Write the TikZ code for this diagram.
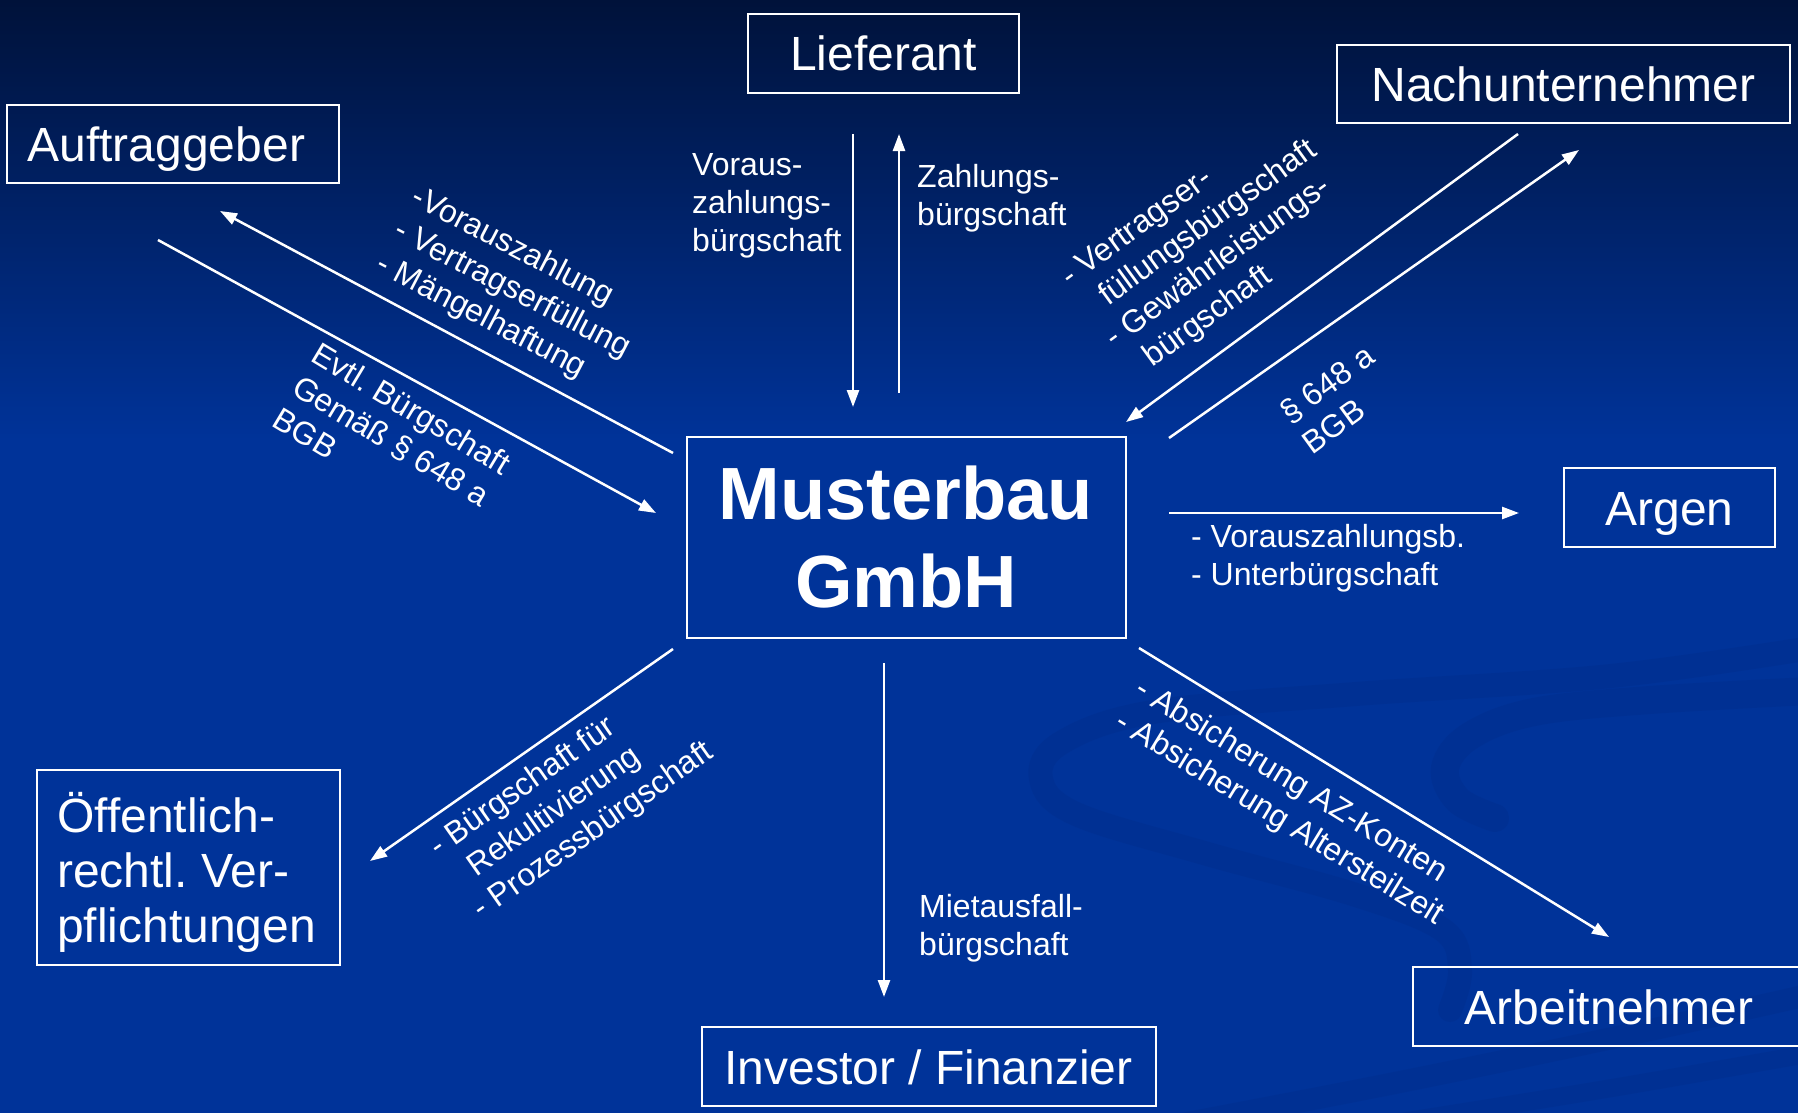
\documentclass[tikz,border=0pt]{standalone}
\usepackage{fontspec}
\setmainfont{Liberation Sans}
\usetikzlibrary{arrows.meta}
\definecolor{bgtop}{HTML}{00123A}
\definecolor{bgmain}{HTML}{003399}
\definecolor{swoosh}{HTML}{00287F}
\frenchspacing
\begin{document}
\begin{tikzpicture}[x=1pt,y=-1pt,
  box/.style={draw=white, line width=2pt, inner sep=0pt, text=white, font=\fontsize{48}{55}\selectfont},
  onel/.style={text height=35pt, text depth=0pt},
  lbl/.style={text=white, inner sep=0pt, align=left, font=\fontsize{32}{38}\selectfont},
  arr/.style={draw=white, line width=2.5pt, -{Triangle[length=17pt,width=12pt]}},
  band/.style={draw=swoosh, opacity=0.22, line cap=round},
]
\useasboundingbox (0,0) rectangle (1798,1113);
\clip (0,0) rectangle (1798,1113);
% background
\fill[bgmain] (0,0) rectangle (1798,1113);
\shade[top color=bgtop, bottom color=bgmain] (0,0) rectangle (1798,440);
% background swoosh
\draw[band, line width=24pt] plot[smooth, tension=0.6] coordinates {(1830,645) (1611,676) (1356,694) (1153,712) (1061,743) (1041,779) (1076,814) (1204,853) (1356,895) (1443,930) (1460,970) (1450,1010)};
\draw[band, line width=28pt] plot[smooth, tension=0.6] coordinates {(1830,690) (1650,700) (1534,712) (1470,736) (1445,768) (1458,800) (1495,818)};
\draw[band, line width=22pt] plot[smooth, tension=0.6] coordinates {(1150,1130) (1400,1082) (1650,1030) (1830,990)};
\draw[band, line width=18pt] plot[smooth, tension=0.6] coordinates {(1350,1130) (1600,1090) (1830,1050)};
% boxes
\node[box, onel, minimum width=271pt, minimum height=79pt] (lief) at (883.5,53.5) {Lieferant};
\node[box, onel, minimum width=332pt, minimum height=78pt, text width=291pt, align=left] (auft) at (173,144) {Auftraggeber};
\node[box, onel, minimum width=453pt, minimum height=78pt] (nach) at (1563.5,84) {Nachunternehmer};
\node[box, onel, minimum width=211pt, minimum height=79pt] (argen) at (1669.5,507.5) {Argen};
\node[box, onel, minimum width=454pt, minimum height=79pt] (inv) at (928.5,1066.5) {Investor / Finanzier};
\node[box, onel, minimum width=392pt, minimum height=79pt] (arb) at (1609,1006.5) {Arbeitnehmer};
\node[box, minimum width=439pt, minimum height=201pt, align=center, font=\fontsize{74}{88}\selectfont\bfseries] (must) at (906,537.5) {Musterbau\\GmbH};
\node[box, minimum width=303pt, minimum height=195pt] (oeff) at (188.5,867.5) {};
\node[text=white, inner sep=0pt, align=left, font=\fontsize{48}{55}\selectfont, anchor=west] (oefftxt) at (57,872) {Öffentlich-\\rechtl. Ver-\\pflichtungen};
% arrow end points
\coordinate (a1s) at (853,134);  \coordinate (a1e) at (853,407);
\coordinate (a2s) at (899,393);  \coordinate (a2e) at (899,134);
\coordinate (a3s) at (673,453);  \coordinate (a3e) at (220,211);
\coordinate (a4s) at (158,240);  \coordinate (a4e) at (656,513);
\coordinate (a5s) at (1518,134); \coordinate (a5e) at (1126,422);
\coordinate (a6s) at (1169,438); \coordinate (a6e) at (1579,150);
\coordinate (a7s) at (1169,513); \coordinate (a7e) at (1519,513);
\coordinate (a8s) at (673,649);  \coordinate (a8e) at (370,861);
\coordinate (a9s) at (884,663);  \coordinate (a9e) at (884,997);
\coordinate (a10s) at (1139,648); \coordinate (a10e) at (1609,937);
\draw[arr] (a1s) -- (a1e);
\draw[arr] (a2s) -- (a2e);
\draw[arr] (a3s) -- (a3e);
\draw[arr] (a4s) -- (a4e);
\draw[arr] (a5s) -- (a5e);
\draw[arr] (a6s) -- (a6e);
\draw[arr] (a7s) -- (a7e);
\draw[arr] (a8s) -- (a8e);
\draw[arr] (a9s) -- (a9e);
\draw[arr] (a10s) -- (a10e);
% labels
\node[lbl, anchor=west] (vz) at (692,206) {Voraus-\\zahlungs-\\bürgschaft};
\node[lbl, anchor=west] (zb) at (917,198) {Zahlungs-\\bürgschaft};
\node[lbl, anchor=west] (ma) at (919,928) {Mietausfall-\\bürgschaft};
\node[lbl, anchor=west] (ag) at (1191,558) {- Vorauszahlungsb.\\- Unterbürgschaft};
\node[lbl, rotate=-27.5] (l1) at (512,290) {-Vorauszahlung\\- Vertragserfüllung\\- Mängelhaftung};
\node[lbl, rotate=-31] (l2) at (392,441) {Evtl. Bürgschaft\\Gemäß § 648 a\\BGB};
\node[lbl, rotate=36] (l3) at (1212,245) {- Vertragser-\\\hphantom{- }füllungsbürgschaft\\- Gewährleistungs-\\\hphantom{- }bürgschaft};
\node[lbl, rotate=36] (l4) at (1338,399) {§ 648 a\\BGB};
\node[lbl, rotate=35] (l5) at (572,800) {- Bürgschaft für\\\hphantom{- }Rekultivierung\\- Prozessbürgschaft};
\node[lbl, rotate=-31.5] (l6) at (1289,803) {- Absicherung AZ-Konten\\- Absicherung Altersteilzeit};
\end{tikzpicture}
\end{document}
